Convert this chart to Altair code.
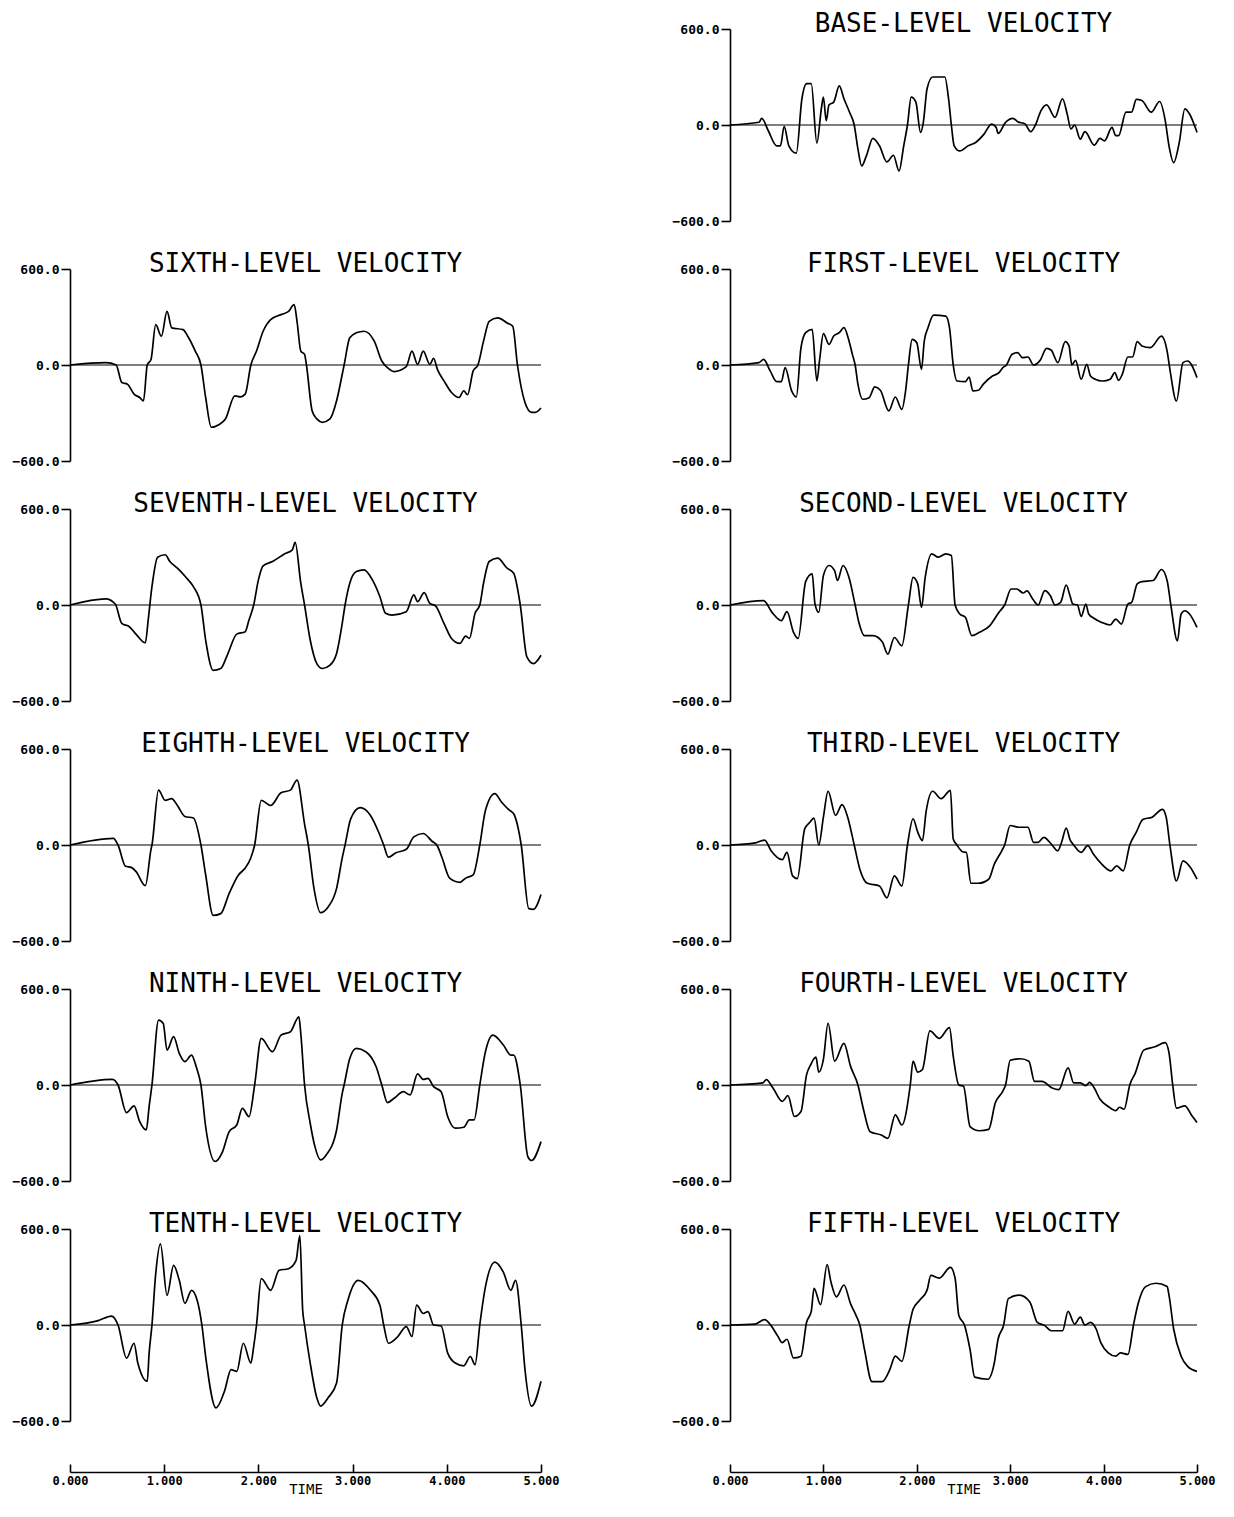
import altair as alt
import pandas as pd

TIME_TICKS = [0, 1, 2, 3, 4, 5]
VEL_TICKS = [-600, 0, 600]

base_level = [
    (0, 0), (0.31, 17), (0.34, 42), (0.41, -36), (0.50, -130), (0.54, -130), (0.58, -8), (0.63, -130),
    (0.71, -176), (0.77, 164), (0.82, 258), (0.87, 258), (0.93, -113), (0.98, 111), (1.00, 174), (1.03, 27),
    (1.06, 126), (1.11, 143), (1.17, 244), (1.22, 164), (1.28, 80), (1.33, 0), (1.37, -151), (1.41, -256),
    (1.46, -193), (1.53, -84), (1.60, -130), (1.68, -231), (1.75, -189), (1.81, -288), (1.86, -130), (1.90, 0),
    (1.94, 174), (1.99, 143), (2.04, -46), (2.07, 17), (2.11, 227), (2.17, 300), (2.30, 300), (2.34, 164),
    (2.37, 0), (2.40, -130), (2.46, -162), (2.55, -130), (2.63, -109), (2.72, -57), (2.80, 6), (2.85, -15),
    (2.87, -53), (2.95, 17), (3.03, 42), (3.08, 21), (3.16, 6), (3.22, -42), (3.27, 0), (3.33, 90), (3.39, 126),
    (3.48, 48), (3.56, 164), (3.61, 69), (3.65, -25), (3.69, 0), (3.75, -88), (3.80, -42), (3.90, -126),
    (3.96, -84), (4.01, -99), (4.09, -15), (4.13, -67), (4.16, -67), (4.24, 80), (4.30, 80), (4.35, 160),
    (4.41, 153), (4.51, 80), (4.60, 147), (4.66, 27), (4.70, -130), (4.75, -235), (4.81, -109), (4.87, 101),
    (4.92, 69), (5.0, -46),
]

first_level = [
    (0, 0), (0.31, 15), (0.36, 35), (0.43, -37), (0.50, -104), (0.55, -104), (0.59, -17), (0.66, -162),
    (0.71, -200), (0.76, 108), (0.81, 202), (0.88, 223), (0.93, -100), (0.96, 35), (1.00, 196), (1.06, 129),
    (1.11, 181), (1.17, 202), (1.22, 233), (1.27, 160), (1.31, 67), (1.34, 0), (1.37, -121), (1.42, -214),
    (1.49, -204), (1.55, -137), (1.61, -158), (1.70, -287), (1.77, -200), (1.84, -277), (1.88, -162), (1.91, 0),
    (1.95, 160), (2.00, 139), (2.05, -27), (2.08, 150), (2.12, 233), (2.18, 312), (2.31, 306), (2.35, 233),
    (2.39, 0), (2.43, -100), (2.52, -104), (2.56, -75), (2.60, -162), (2.66, -158), (2.71, -121), (2.81, -69),
    (2.88, -48), (2.92, -17), (2.96, 0), (3.02, 67), (3.08, 77), (3.13, 46), (3.19, 50), (3.25, 0), (3.32, 29),
    (3.39, 104), (3.44, 92), (3.51, 15), (3.59, 146), (3.63, 119), (3.66, 0), (3.70, 29), (3.76, -89),
    (3.82, 4), (3.86, -69), (3.91, -89), (3.99, -100), (4.07, -89), (4.12, -48), (4.16, -96), (4.20, -58),
    (4.26, 50), (4.31, 50), (4.36, 146), (4.41, 119), (4.50, 108), (4.62, 181), (4.68, 87), (4.71, -27),
    (4.78, -225), (4.85, 15), (4.90, 25), (5.0, -79),
]

second_level = [
    (0, 0), (0.36, 27), (0.45, -46), (0.55, -98), (0.61, -42), (0.68, -171), (0.73, -209), (0.81, 146),
    (0.88, 194), (0.91, 6), (0.95, -46), (1.00, 184), (1.06, 247), (1.12, 215), (1.15, 153), (1.21, 247),
    (1.27, 180), (1.34, 0), (1.38, -109), (1.44, -192), (1.53, -192), (1.63, -230), (1.69, -307), (1.76, -203),
    (1.84, -255), (1.91, 0), (1.96, 173), (2.01, 132), (2.05, -15), (2.09, 173), (2.16, 320), (2.23, 299),
    (2.31, 320), (2.37, 309), (2.41, 0), (2.46, -56), (2.52, -77), (2.59, -192), (2.67, -171), (2.78, -130),
    (2.88, -46), (2.94, 0), (3.01, 100), (3.07, 100), (3.14, 75), (3.18, 88), (3.24, 38), (3.30, 0), (3.37, 90),
    (3.43, 58), (3.48, 0), (3.54, 17), (3.60, 125), (3.64, 58), (3.67, 6), (3.72, 0), (3.76, -71), (3.81, 6),
    (3.84, -56), (3.90, -84), (3.98, -109), (4.07, -125), (4.13, -88), (4.19, -119), (4.26, 6), (4.30, 17),
    (4.36, 132), (4.41, 146), (4.53, 153), (4.62, 222), (4.68, 153), (4.72, 0), (4.79, -224), (4.83, -56),
    (4.87, -36), (4.92, -56), (5.0, -140),
]

third_level = [
    (0, 0), (0.27, 13), (0.37, 31), (0.44, -36), (0.56, -92), (0.61, -46), (0.67, -193), (0.72, -210),
    (0.80, 101), (0.85, 139), (0.90, 168), (0.95, 0), (1.00, 174), (1.05, 336), (1.13, 185), (1.20, 252),
    (1.26, 174), (1.33, 0), (1.39, -151), (1.47, -239), (1.60, -256), (1.68, -330), (1.76, -193), (1.84, -256),
    (1.90, 0), (1.96, 164), (2.01, 80), (2.06, 27), (2.10, 210), (2.17, 336), (2.26, 290), (2.36, 342),
    (2.39, 38), (2.43, 0), (2.49, -42), (2.53, -46), (2.58, -239), (2.66, -239), (2.77, -214), (2.83, -120),
    (2.91, -36), (2.94, 0), (3.00, 122), (3.09, 111), (3.19, 111), (3.25, 17), (3.30, 17), (3.36, 48),
    (3.44, 6), (3.51, -36), (3.55, 17), (3.60, 105), (3.64, 34), (3.68, 0), (3.76, -46), (3.83, -4),
    (3.89, -57), (3.98, -120), (4.08, -162), (4.14, -130), (4.21, -162), (4.28, 0), (4.35, 80), (4.42, 160),
    (4.52, 174), (4.63, 223), (4.67, 174), (4.71, 0), (4.78, -225), (4.85, -99), (4.93, -141), (5.0, -214),
]

fourth_level = [
    (0, 0), (0.35, 13), (0.39, 34), (0.46, -19), (0.56, -103), (0.62, -67), (0.69, -197), (0.76, -166),
    (0.82, 65), (0.86, 122), (0.92, 174), (0.95, 80), (1.00, 160), (1.05, 386), (1.12, 149), (1.22, 260),
    (1.29, 118), (1.37, 0), (1.43, -155), (1.50, -292), (1.62, -313), (1.69, -334), (1.77, -187), (1.84, -250),
    (1.93, 0), (1.96, 149), (2.01, 80), (2.06, 97), (2.14, 338), (2.24, 292), (2.35, 359), (2.39, 181),
    (2.45, 0), (2.50, -8), (2.57, -260), (2.67, -286), (2.77, -277), (2.84, -113), (2.92, -40), (2.95, 0),
    (3.00, 155), (3.11, 164), (3.20, 149), (3.26, 23), (3.34, 23), (3.45, -19), (3.52, -29), (3.62, 107),
    (3.68, 13), (3.75, 13), (3.81, -4), (3.85, 17), (3.90, -19), (3.96, -88), (4.05, -134), (4.13, -160),
    (4.17, -139), (4.22, -151), (4.28, 0), (4.34, 76), (4.43, 218), (4.55, 239), (4.66, 265), (4.70, 202),
    (4.74, 0), (4.78, -145), (4.87, -130), (4.94, -187), (5.0, -235),
]

fifth_level = [
    (0, 0), (0.27, 6), (0.37, 34), (0.44, -4), (0.51, -68), (0.56, -110), (0.61, -89), (0.68, -206),
    (0.76, -195), (0.82, 17), (0.87, 85), (0.90, 229), (0.97, 127), (1.04, 377), (1.08, 271), (1.14, 176),
    (1.22, 250), (1.29, 134), (1.35, 59), (1.39, 0), (1.44, -153), (1.52, -354), (1.63, -354), (1.71, -280),
    (1.77, -195), (1.84, -227), (1.92, 0), (1.96, 98), (2.03, 155), (2.11, 218), (2.15, 310), (2.24, 293),
    (2.36, 360), (2.41, 293), (2.45, 59), (2.51, 0), (2.57, -153), (2.62, -326), (2.76, -339), (2.83, -237),
    (2.87, -89), (2.93, 0), (2.98, 165), (3.10, 187), (3.21, 144), (3.29, 17), (3.37, -4), (3.44, -36),
    (3.56, -36), (3.62, 85), (3.69, 6), (3.75, 49), (3.80, 0), (3.86, 17), (3.92, -25), (3.97, -110),
    (4.05, -174), (4.13, -195), (4.18, -174), (4.26, -184), (4.32, 0), (4.37, 134), (4.45, 240), (4.56, 261),
    (4.68, 240), (4.70, 187), (4.75, -25), (4.83, -195), (4.90, -259), (5.0, -290),
]

sixth_level = [
    (0, 0), (0.38, 15), (0.49, 0), (0.55, -110), (0.61, -120), (0.68, -182), (0.74, -203), (0.78, -224),
    (0.82, 0), (0.86, 35), (0.91, 252), (0.97, 180), (1.03, 335), (1.08, 232), (1.20, 221), (1.25, 180),
    (1.33, 87), (1.39, 0), (1.44, -203), (1.50, -389), (1.58, -373), (1.65, -337), (1.75, -193), (1.81, -199),
    (1.86, -182), (1.92, 0), (1.98, 87), (2.05, 211), (2.13, 284), (2.24, 315), (2.32, 335), (2.38, 377),
    (2.41, 273), (2.45, 87), (2.49, 66), (2.51, 0), (2.57, -286), (2.62, -337), (2.68, -358), (2.76, -337),
    (2.83, -224), (2.89, -58), (2.91, 0), (2.97, 170), (3.04, 201), (3.12, 211), (3.23, 149), (3.31, 25),
    (3.37, -17), (3.44, -41), (3.57, -10), (3.63, 87), (3.69, 4), (3.75, 87), (3.82, 4), (3.86, 41),
    (3.90, -27), (3.97, -99), (4.05, -172), (4.13, -203), (4.18, -161), (4.22, -186), (4.28, -37), (4.33, 0),
    (4.39, 149), (4.45, 273), (4.54, 294), (4.64, 263), (4.70, 242), (4.75, 0), (4.83, -234), (4.90, -296),
    (4.94, -296), (5.0, -269),
]

seventh_level = [
    (0, 0), (0.38, 38), (0.48, 6), (0.55, -115), (0.63, -136), (0.70, -182), (0.80, -236), (0.83, -94),
    (0.87, 115), (0.93, 299), (1.01, 314), (1.06, 272), (1.14, 230), (1.24, 167), (1.31, 115), (1.39, 0),
    (1.44, -219), (1.52, -408), (1.60, -397), (1.67, -313), (1.77, -182), (1.86, -167), (1.90, -94), (1.95, 0),
    (2.00, 157), (2.05, 245), (2.15, 272), (2.28, 320), (2.36, 345), (2.39, 391), (2.45, 136), (2.49, 0),
    (2.55, -219), (2.62, -366), (2.68, -397), (2.76, -376), (2.83, -303), (2.89, -115), (2.92, 0), (2.97, 136),
    (3.04, 209), (3.12, 219), (3.21, 157), (3.29, 52), (3.35, -52), (3.42, -63), (3.57, -42), (3.65, 63),
    (3.69, 21), (3.76, 77), (3.82, 10), (3.88, -6), (3.97, -115), (4.05, -209), (4.14, -240), (4.20, -194),
    (4.24, -209), (4.30, -52), (4.35, 0), (4.39, 136), (4.45, 272), (4.54, 293), (4.64, 230), (4.71, 199),
    (4.78, 0), (4.85, -324), (4.92, -366), (5.0, -314),
]

eighth_level = [
    (0, 0), (0.46, 42), (0.51, 0), (0.59, -133), (0.65, -140), (0.70, -165), (0.80, -254), (0.86, -27),
    (0.87, 0), (0.94, 343), (1.01, 279), (1.08, 290), (1.14, 247), (1.22, 178), (1.31, 169), (1.39, 0),
    (1.44, -186), (1.52, -440), (1.60, -429), (1.69, -302), (1.79, -186), (1.86, -144), (1.92, -80), (1.96, 0),
    (2.03, 279), (2.13, 247), (2.24, 326), (2.34, 343), (2.41, 406), (2.49, 131), (2.53, 0), (2.59, -271),
    (2.66, -423), (2.74, -387), (2.83, -271), (2.89, -80), (2.92, 0), (2.98, 163), (3.08, 233), (3.19, 184),
    (3.27, 89), (3.33, 0), (3.38, -76), (3.46, -49), (3.57, -27), (3.65, 51), (3.75, 72), (3.84, 25),
    (3.90, -6), (3.95, -80), (4.03, -207), (4.14, -233), (4.20, -207), (4.28, -186), (4.35, 0), (4.41, 216),
    (4.51, 321), (4.58, 269), (4.66, 220), (4.71, 195), (4.79, 0), (4.87, -398), (4.92, -402), (5.0, -309),
]

ninth_level = [
    (0, 0), (0.45, 35), (0.51, 0), (0.60, -173), (0.68, -131), (0.74, -229), (0.81, -281), (0.84, -135),
    (0.87, 0), (0.94, 406), (0.99, 385), (1.03, 218), (1.10, 302), (1.16, 198), (1.22, 146), (1.29, 187),
    (1.34, 114), (1.39, 0), (1.44, -260), (1.54, -478), (1.62, -416), (1.69, -291), (1.77, -250), (1.83, -146),
    (1.90, -198), (1.96, 0), (2.03, 291), (2.15, 208), (2.24, 312), (2.34, 333), (2.43, 426), (2.45, 322),
    (2.49, 0), (2.55, -239), (2.60, -385), (2.66, -468), (2.72, -437), (2.83, -281), (2.89, -52), (2.91, 0),
    (2.97, 166), (3.04, 229), (3.14, 208), (3.25, 114), (3.31, 0), (3.37, -110), (3.44, -83), (3.54, -42),
    (3.61, -62), (3.69, 69), (3.75, 35), (3.80, 42), (3.86, -10), (3.94, -42), (4.01, -198), (4.09, -270),
    (4.18, -264), (4.24, -218), (4.29, -218), (4.35, 0), (4.41, 208), (4.49, 312), (4.60, 250), (4.68, 187),
    (4.71, 187), (4.78, 0), (4.86, -447), (4.90, -472), (5.0, -354),
]

tenth_level = [
    (0, 0), (0.30, 27), (0.44, 56), (0.51, 0), (0.60, -207), (0.68, -114), (0.72, -238), (0.82, -352),
    (0.84, -176), (0.87, 0), (0.91, 321), (0.96, 507), (1.03, 186), (1.10, 373), (1.16, 279), (1.22, 135),
    (1.29, 217), (1.35, 155), (1.40, 0), (1.44, -197), (1.55, -518), (1.64, -414), (1.71, -279), (1.77, -290),
    (1.84, -114), (1.92, -238), (1.95, -135), (1.98, 0), (2.03, 290), (2.13, 217), (2.22, 342), (2.32, 352),
    (2.40, 404), (2.44, 559), (2.47, 93), (2.49, 0), (2.55, -238), (2.62, -455), (2.66, -507), (2.74, -455),
    (2.83, -362), (2.89, 0), (2.95, 155), (3.06, 279), (3.19, 217), (3.29, 124), (3.33, 0), (3.38, -114),
    (3.48, -72), (3.57, -10), (3.63, -72), (3.68, 124), (3.75, 72), (3.80, 83), (3.86, 0), (3.94, -6),
    (4.01, -176), (4.09, -238), (4.18, -255), (4.25, -197), (4.30, -248), (4.35, 0), (4.41, 238), (4.51, 393),
    (4.60, 331), (4.68, 217), (4.73, 279), (4.79, 0), (4.83, -279), (4.90, -507), (5.0, -352),
]

RIGHT_PANELS = [
    ("BASE-LEVEL VELOCITY", base_level),
    ("FIRST-LEVEL VELOCITY", first_level),
    ("SECOND-LEVEL VELOCITY", second_level),
    ("THIRD-LEVEL VELOCITY", third_level),
    ("FOURTH-LEVEL VELOCITY", fourth_level),
    ("FIFTH-LEVEL VELOCITY", fifth_level),
]
LEFT_PANELS = [
    ("SIXTH-LEVEL VELOCITY", sixth_level),
    ("SEVENTH-LEVEL VELOCITY", seventh_level),
    ("EIGHTH-LEVEL VELOCITY", eighth_level),
    ("NINTH-LEVEL VELOCITY", ninth_level),
    ("TENTH-LEVEL VELOCITY", tenth_level),
]

MONO = "DejaVu Sans Mono"
PANEL_H = 192


def panel(title, pts, width, visible=True):
    df = pd.DataFrame(pts, columns=["t", "v"])
    ink = "black" if visible else "transparent"
    x = alt.X("t:Q", scale=alt.Scale(domain=[0, 5], nice=False, zero=False), axis=None)
    y = alt.Y(
        "v:Q",
        scale=alt.Scale(domain=[-600, 600], nice=False),
        axis=alt.Axis(
            values=VEL_TICKS, format=".1f", title=None, grid=False,
            domainColor=ink, domainWidth=1.6, tickColor=ink, tickWidth=1.6, tickSize=9,
            labelColor=ink, labelFont=MONO, labelFontSize=13, labelFontWeight="bold",
            labelPadding=2,
        ),
    )
    zero = alt.Chart(pd.DataFrame({"v": [0]})).mark_rule(color=ink, strokeWidth=1.1).encode(y=y)
    line = alt.Chart(df).mark_line(
        color=ink, strokeWidth=1.7, interpolate="monotone"
    ).encode(x=x, y=y)
    return alt.layer(zero, line).properties(
        width=width,
        height=PANEL_H,
        title=alt.TitleParams(
            title, font=MONO, fontSize=26, fontWeight="normal", color=ink,
            anchor="middle", offset=-14,
        ),
    )


def time_axis(width):
    df = pd.DataFrame({"t": TIME_TICKS})
    return alt.Chart(df).mark_point(opacity=0).encode(
        x=alt.X(
            "t:Q",
            scale=alt.Scale(domain=[0, 5], nice=False, zero=False),
            axis=alt.Axis(
                values=TIME_TICKS, format=".3f", title="TIME",
                grid=True, gridColor="black", gridWidth=1.6, gridOpacity=1,
                ticks=False, domain=True, domainColor="black", domainWidth=1.6,
                labelFont=MONO, labelFontSize=12, labelFontWeight="bold", labelColor="black",
                labelPadding=3, labelFlush=False, labelOverlap=False,
                titleFont=MONO, titleFontSize=14, titleFontWeight="normal", titleColor="black",
                titlePadding=-4,
            ),
        )
    ).properties(width=width, height=8)


LEFT_W = 471
RIGHT_W = 467
ROW_GAP = 23
AXIS_GAP = 36

right_col = alt.vconcat(
    alt.vconcat(*[panel(t, p, RIGHT_W) for t, p in RIGHT_PANELS], spacing=ROW_GAP),
    time_axis(RIGHT_W),
    spacing=AXIS_GAP,
)
left_col = alt.vconcat(
    alt.vconcat(
        panel(" ", base_level, LEFT_W, visible=False),
        *[panel(t, p, LEFT_W) for t, p in LEFT_PANELS],
        spacing=ROW_GAP,
    ),
    time_axis(LEFT_W),
    spacing=AXIS_GAP,
)

chart = (
    alt.hconcat(left_col, right_col, spacing=112)
    .properties(padding={"left": 4, "top": 3, "right": 4, "bottom": 0})
    .configure(background="white")
    .configure_view(strokeWidth=0, stroke="transparent")
)

chart.save("out.html", embed_options={"renderer": "svg", "actions": False})
